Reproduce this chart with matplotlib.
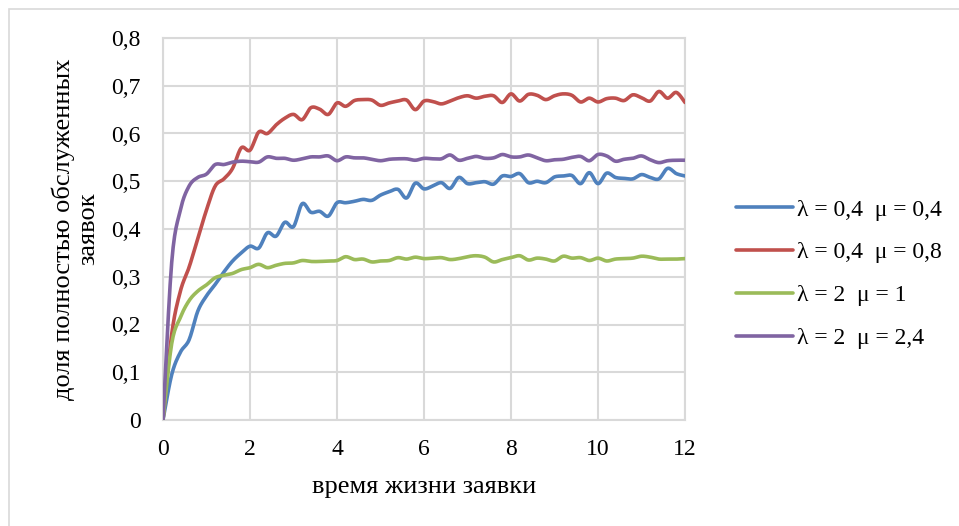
import numpy as np
import matplotlib

matplotlib.use("Agg")
import matplotlib.pyplot as plt
from matplotlib.lines import Line2D
from matplotlib.ticker import FuncFormatter

# lifetime of a request, step 0.2
t = np.round(np.arange(0, 12.0001, 0.2), 1)

blue = [0, 0.095, 0.142, 0.168, 0.228, 0.26, 0.284, 0.31, 0.333, 0.35,
        0.364, 0.36, 0.392, 0.385, 0.414, 0.405, 0.453, 0.435, 0.437, 0.427,
        0.455, 0.455, 0.458, 0.462, 0.460, 0.471, 0.478, 0.483, 0.465, 0.496,
        0.484, 0.490, 0.497, 0.485, 0.508, 0.495, 0.497, 0.499, 0.494, 0.511,
        0.510, 0.516, 0.497, 0.500, 0.497, 0.509, 0.511, 0.512, 0.495, 0.518,
        0.495, 0.517, 0.508, 0.506, 0.505, 0.514, 0.508, 0.505, 0.527, 0.516,
        0.511]
red = [0, 0.18, 0.27, 0.32, 0.38, 0.44, 0.49, 0.505, 0.527, 0.57,
       0.565, 0.603, 0.600, 0.618, 0.632, 0.64, 0.629, 0.654, 0.651, 0.640,
       0.664, 0.657, 0.669, 0.671, 0.670, 0.659, 0.664, 0.668, 0.670, 0.650,
       0.668, 0.667, 0.662, 0.668, 0.675, 0.679, 0.674, 0.678, 0.679, 0.665,
       0.683, 0.668, 0.682, 0.680, 0.671, 0.679, 0.683, 0.680, 0.666, 0.674,
       0.666, 0.673, 0.674, 0.669, 0.681, 0.675, 0.668, 0.688, 0.674, 0.686,
       0.665]
green = [0, 0.16, 0.215, 0.25, 0.27, 0.283, 0.298, 0.303, 0.307, 0.315,
         0.319, 0.326, 0.319, 0.324, 0.328, 0.329, 0.334, 0.332, 0.332, 0.333,
         0.334, 0.342, 0.336, 0.337, 0.331, 0.333, 0.334, 0.340, 0.337, 0.341,
         0.338, 0.339, 0.340, 0.336, 0.338, 0.342, 0.344, 0.341, 0.331, 0.336,
         0.340, 0.344, 0.335, 0.339, 0.337, 0.333, 0.343, 0.339, 0.340, 0.334,
         0.339, 0.333, 0.337, 0.338, 0.339, 0.343, 0.341, 0.337, 0.337, 0.337,
         0.338]
purple = [0, 0.33, 0.44, 0.49, 0.508, 0.515, 0.535, 0.535, 0.540, 0.542,
          0.541, 0.540, 0.551, 0.548, 0.548, 0.544, 0.547, 0.551, 0.551, 0.553,
          0.543, 0.551, 0.549, 0.549, 0.546, 0.543, 0.546, 0.547, 0.547, 0.544,
          0.548, 0.547, 0.547, 0.555, 0.544, 0.548, 0.552, 0.548, 0.549, 0.556,
          0.551, 0.551, 0.555, 0.549, 0.543, 0.545, 0.546, 0.550, 0.552, 0.543,
          0.556, 0.553, 0.542, 0.546, 0.548, 0.553, 0.545, 0.539, 0.543, 0.544,
          0.544]

labels = ["λ = 0,4  μ = 0,4", "λ = 0,4  μ = 0,8", "λ = 2  μ = 1", "λ = 2  μ = 2,4"]
colors = ["#4F81BD", "#C0504D", "#9BBB59", "#8064A2"]

GRID = "#d9d9d9"


def smooth(x, y, n=12):
    # Catmull-Rom curve through the points, like Excel's smoothed line
    x = np.asarray(x, float)
    y = np.asarray(y, float)
    px = np.concatenate([[x[0]], x, [x[-1]]])
    py = np.concatenate([[y[0]], y, [y[-1]]])
    s = np.linspace(0, 1, n, endpoint=False)
    xs, ys = [], []
    for i in range(1, len(px) - 2):
        for p, out in ((px, xs), (py, ys)):
            p0, p1, p2, p3 = p[i - 1], p[i], p[i + 1], p[i + 2]
            out.extend(0.5 * (2 * p1 + (-p0 + p2) * s
                              + (2 * p0 - 5 * p1 + 4 * p2 - p3) * s ** 2
                              + (-p0 + 3 * p1 - 3 * p2 + p3) * s ** 3))
    xs.append(x[-1])
    ys.append(y[-1])
    return np.array(xs), np.array(ys)


plt.rcParams["font.family"] = ["Liberation Serif", "DejaVu Serif"]

fig = plt.figure(figsize=(9.59, 5.26), dpi=100)
ax = fig.add_axes([163 / 959, 1 - 420 / 526, 522 / 959, 382 / 526])

for ys, c in zip([blue, red, green, purple], colors):
    sx, sy = smooth(t, ys)
    ax.plot(sx, sy, color=c, lw=2.6, solid_capstyle="round", zorder=3)

ax.set_xlim(0, 12)
ax.set_ylim(0, 0.8)
ax.set_xticks(np.arange(0, 13, 2))
ax.set_yticks(np.arange(0, 0.81, 0.1))
ax.yaxis.set_major_formatter(FuncFormatter(
    lambda v, _: "0" if abs(v) < 1e-9 else f"{v:.1f}".replace(".", ",")))
ax.grid(True, color=GRID, lw=1.5)
ax.set_axisbelow(True)
for sp in ax.spines.values():
    sp.set_color(GRID)
    sp.set_linewidth(1.5)
ax.tick_params(length=0, labelsize=17, pad=14, colors="black")
ax.tick_params(axis="y", pad=16)

ax.set_xlabel("время жизни заявки", fontsize=19, labelpad=11)
ax.set_ylabel("доля полностью обслуженных\nзаявок", fontsize=19, labelpad=9,
              linespacing=1.1)

handles = [Line2D([], [], color=c, lw=2.6, solid_capstyle="round") for c in colors]
fig.legend(handles, labels, loc="upper left", frameon=False, fontsize=17,
           bbox_to_anchor=(736 / 959, 1 - 199 / 526), borderaxespad=0,
           borderpad=0, handlelength=2.4, handletextpad=0.2,
           labelspacing=0.9)

# chart area border (cropped at right and bottom in the source)
fig.add_artist(plt.Rectangle((9 / 959, -0.1), 1.2, 1 - 9 / 526 + 0.1,
                             transform=fig.transFigure, fill=False,
                             edgecolor=GRID, lw=1.2))

fig.savefig("out.png", dpi=100, facecolor="white")
